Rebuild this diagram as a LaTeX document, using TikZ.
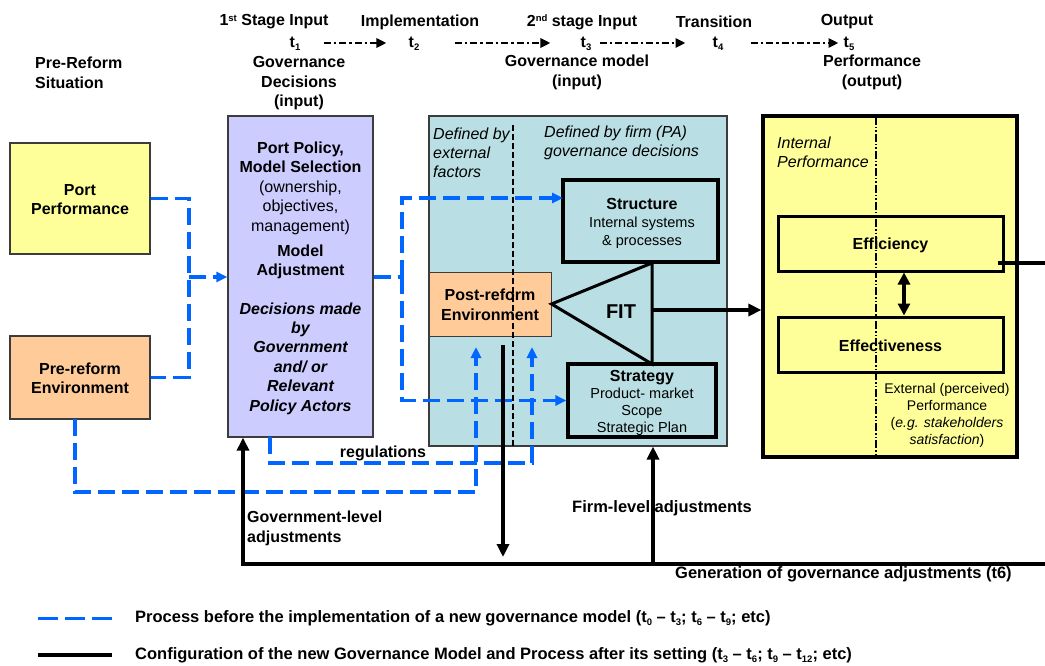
\documentclass[tikz,border=0pt]{standalone}
\usepackage{fontspec}
\setmainfont{Liberation Sans}
\usetikzlibrary{arrows.meta,calc}
\definecolor{pblue}{RGB}{0,102,255}
\definecolor{pyellow}{RGB}{255,255,153}
\definecolor{porange}{RGB}{255,204,153}
\definecolor{plav}{RGB}{204,204,255}
\definecolor{pteal}{RGB}{185,223,228}
\definecolor{pgray}{RGB}{60,60,60}
\newcommand{\sbs}[1]{\raisebox{-0.35ex}{\fontsize{9.5}{9.5}\selectfont #1}}
\newcommand{\sps}[1]{\raisebox{0.55ex}{\fontsize{9.5}{9.5}\selectfont #1}}
\tikzset{
  bd/.style={draw=pblue, line width=3.2pt, dash pattern=on 17pt off 7pt},
  bar/.style={-{Triangle[length=11pt,width=10pt]}},
  bl/.style={draw=black, line width=3.5pt},
  blar/.style={-{Triangle[length=13pt,width=12pt]}},
  tl/.style={draw=black, line width=2.5pt, dash pattern=on 7pt off 3pt on 2.5pt off 3pt, -{Triangle[length=10pt,width=9pt]}},
  txt/.style={inner sep=0, align=center, font=\fontsize{16}{19.5}\selectfont},
  btxt/.style={inner sep=0, align=center, font=\fontsize{16}{19.5}\selectfont\bfseries},
  bbtxt/.style={inner sep=0, align=center, font=\fontsize{16.5}{19.5}\selectfont\bfseries},
  itxt/.style={inner sep=0, align=left, font=\fontsize{16}{19.2}\selectfont\itshape},
  stxt/.style={inner sep=0, align=center, font=\fontsize{14.5}{17.8}\selectfont},
  thinbox/.style={draw=pgray, line width=1.3pt, inner sep=0, rectangle},
  thickbox/.style={draw=black, line width=3.2pt, inner sep=0, rectangle},
}
\begin{document}
\begin{tikzpicture}[x=1pt,y=-1pt]
\useasboundingbox (0,0) rectangle (1045,666);

% ---------- header row ----------
\node[btxt] (h1) at (274,22) {1\sps{st} Stage Input};
\node[btxt] (h2) at (420,22) {Implementation};
\node[btxt] (h3) at (582,22) {2\sps{nd} stage Input};
\node[btxt] (h4) at (714,22) {Transition};
\node[btxt] (h5) at (847,22) {Output};
\node[btxt] (t1) at (295,44) {t\sbs{1}};
\node[btxt] (t2) at (414,44) {t\sbs{2}};
\node[btxt] (t3) at (586,44) {t\sbs{3}};
\node[btxt] (t4) at (718,44) {t\sbs{4}};
\node[btxt] (t5) at (849,44) {t\sbs{5}};
\draw[tl] ([xshift=23pt]t1.east |- 0,43) -- ([xshift=-22pt]t2.west |- 0,43);
\draw[tl] ([xshift=35pt]t2.east |- 0,43) -- ([xshift=-30pt]t3.west |- 0,43);
\draw[tl] ([xshift=8pt]t3.east |- 0,43) -- ([xshift=-27pt]t4.west |- 0,43);
\draw[tl] ([xshift=27pt]t4.east |- 0,43) -- ([xshift=-5pt]t5.west |- 0,43);

\node[btxt, align=left, anchor=west] (pre-h) at (35,73) {Pre-Reform\\Situation};
\node[btxt] (gd-h) at (299,83.5) {Governance\\Decisions\\(input)};
\node[btxt] (gm-h) at (577,72.5) {Governance model\\(input)};
\node[btxt] (pf-h) at (872,72.5) {Performance\\(output)};

% ---------- left boxes ----------
\node[thinbox, fill=pyellow, minimum width=140pt, minimum height=111pt] (pp) at (80,198.5) {};
\node[btxt] (ppt) at (80,199.5) {Port\\Performance};
\node[thinbox, fill=porange, minimum width=140pt, minimum height=83pt] (pre) at (80,377.5) {};
\node[btxt] (pret) at (80,378.5) {Pre-reform\\Environment};

% ---------- governance box ----------
\node[thinbox, fill=plav, minimum width=145pt, minimum height=321pt] (gov) at (300.5,276.5) {};
\node[txt] (g1) at (300.5,188) {\textbf{Port Policy,}\\\textbf{Model Selection}\\(ownership,\\objectives,\\management)};
\node[btxt] (g2) at (300.5,262) {Model\\Adjustment};
\node[btxt, font=\fontsize{16}{19.4}\selectfont\bfseries\itshape] (g3) at (300.5,358.5) {Decisions made\\by\\Government\\and/ or\\Relevant\\Policy Actors};

% ---------- teal box ----------
\node[draw=pgray, line width=1.1pt, fill=pteal, inner sep=0, minimum width=298pt, minimum height=330pt] (teal) at (578,281) {};
\node[itxt, anchor=west] (dext) at (433,152.5) {Defined by\\external\\factors};
\node[itxt, anchor=west] (dfirm) at (544,143) {Defined by firm (PA)\\governance decisions};

\node[thickbox, fill=pteal, minimum width=155pt, minimum height=82pt] (struct) at (640.5,221) {};
\node[stxt] (structt) at (642,223.5) {{\fontsize{16}{17.8}\selectfont\bfseries Structure}\\Internal systems\\\& processes};
\node[thickbox, fill=pteal, minimum width=148pt, minimum height=73pt] (strat) at (642,400.5) {};
\node[stxt, font=\fontsize{14.5}{17.2}\selectfont] (stratt) at (642,403) {{\fontsize{16}{17.2}\selectfont\bfseries Strategy}\\Product- market\\Scope\\Strategic Plan};
\node[draw=pgray, line width=1pt, fill=porange, inner sep=0, minimum width=122pt, minimum height=64pt] (post) at (490,304) {};
\node[btxt] (postt) at (490,305) {Post-reform\\Environment};

% FIT triangle
\coordinate (ftop) at (652,263);
\coordinate (fbot) at (652,364);
\coordinate (fmid) at (652,310);
\draw[line width=3pt, line join=miter] (ftop) -- (post.east) -- (fbot) -- cycle;
\node[btxt, font=\fontsize{20}{20}\selectfont\bfseries] (fit) at (621,312) {FIT};

\draw[black, line width=1.2pt, dash pattern=on 6pt off 3pt] (513,125) -- (513,446);

% ---------- output box ----------
\node[thickbox, fill=pyellow, minimum width=254pt, minimum height=341pt] (out) at (890,286.5) {};
\node[itxt, anchor=west] (intp) at (777,152) {Internal\\Performance};
\node[thickbox, line width=3pt, fill=pyellow, minimum width=225pt, minimum height=54pt] (eff) at (890.5,244) {};
\node[thickbox, line width=3pt, fill=pyellow, minimum width=225pt, minimum height=55pt] (effv) at (890.5,344.5) {};
\draw[black, line width=1.5pt, dash pattern=on 8pt off 2pt on 1.5pt off 2pt on 1.5pt off 2pt] (876,117) -- (876,456);
\node[btxt] (efft) at (890.5,245) {Efficiency};
\node[btxt] (effvt) at (890.5,346) {Effectiveness};
\node[stxt, font=\fontsize{14}{17}\selectfont] (ext) at (947,415) {External (perceived)\\Performance\\(\textit{e.g. stakeholders}\\\textit{satisfaction})};
\draw[line width=3.5pt, {Triangle[length=12pt,width=12pt]}-{Triangle[length=12pt,width=12pt]}] ([xshift=13.5pt]eff.south) -- ([xshift=13.5pt]effv.north);
\coordinate (effo) at (998,263);
\coordinate (effr) at (1045,263);
\draw[bl] (effo) -- (effr);

% ---------- blue dashed process ----------
\coordinate (j1) at (189,277);
\draw[bd] (pp.east) -| (j1) |- (pre.east);
\draw[bd, bar] (j1) -- (j1 -| gov.west);
\coordinate (j2) at (402,277);
\coordinate (sin) at (563,198);
\coordinate (sinL) at (402,198);
\draw[bd] (gov.east |- j2) -- (j2);
\draw[bd, bar] (j2) -- (sinL) -- (sin);
\draw[bd, bar] (j2) |- (strat.west);
\coordinate (rA) at (270,437);
\coordinate (rB) at (532,463);
\coordinate (rC) at (532,347);
\draw[bd, bar] (rA) |- (rB) -- (rC);
\coordinate (lA) at (75,419);
\coordinate (lB) at (476,492);
\coordinate (lC) at (476,347);
\draw[bd, bar] (lA) |- (lB) -- (lC);

% ---------- black configuration lines ----------
\draw[bl, blar] (fmid) -- (fmid -| out.west);
\coordinate (dA) at (503,345);
\coordinate (dB) at (503,557);
\draw[bl, blar] (dA) -- (dB);
\coordinate (hR) at (1045,564);
\coordinate (hL) at (243,564);
\coordinate (hM) at (653,564);
\draw[bl, blar] (hR) -- (hL) -- (hL |- gov.south);
\draw[bl, blar] (hM) -- (hM |- teal.south);

% ---------- labels ----------
\node[btxt] (reg) at (383,453) {regulations};
\node[btxt, align=left, anchor=west] (govadj) at (247,528.5) {Government-level\\adjustments};
\node[bbtxt, anchor=west] (firmadj) at (572,508) {Firm-level adjustments};
\node[bbtxt, anchor=west] (gen) at (675,574) {Generation of governance adjustments (t6)};

% ---------- legend ----------
\coordinate (lg1a) at (38,618);
\coordinate (lg1b) at (112,618);
\draw[draw=pblue, line width=3pt, dash pattern=on 20pt off 7pt] (lg1a) -- (lg1b);
\node[bbtxt, anchor=west] (lg1) at (135,618) {Process before the implementation of a new governance model (t\sbs{0} – t\sbs{3}; t\sbs{6} – t\sbs{9}; etc)};
\coordinate (lg2a) at (38,655);
\coordinate (lg2b) at (112,655);
\draw[bl] (lg2a) -- (lg2b);
\node[bbtxt, anchor=west] (lg2) at (135,655) {Configuration of the new Governance Model and Process after its setting (t\sbs{3} – t\sbs{6}; t\sbs{9} – t\sbs{12}; etc)};
\end{tikzpicture}
\end{document}
